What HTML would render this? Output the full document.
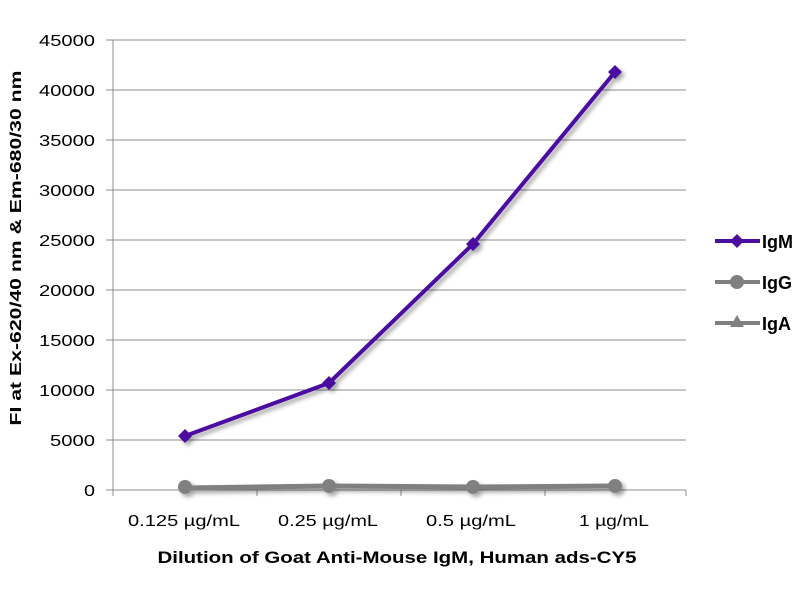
<!DOCTYPE html>
<html><head><meta charset="utf-8"><style>body{margin:0;background:#fff}svg{display:block}</style></head><body>
<svg width="800" height="600" xmlns="http://www.w3.org/2000/svg" font-family="Liberation Sans, sans-serif">
<defs><filter id="sh" x="-10%" y="-10%" width="130%" height="130%"><feDropShadow dx="3" dy="3" stdDeviation="2" flood-color="#000" flood-opacity="0.35"/></filter></defs>
<g stroke="#8c8c8c" stroke-width="1">
<line x1="113" y1="40" x2="686" y2="40"/><line x1="113" y1="90" x2="686" y2="90"/><line x1="113" y1="140" x2="686" y2="140"/><line x1="113" y1="190" x2="686" y2="190"/><line x1="113" y1="240" x2="686" y2="240"/><line x1="113" y1="290" x2="686" y2="290"/><line x1="113" y1="340" x2="686" y2="340"/><line x1="113" y1="390" x2="686" y2="390"/><line x1="113" y1="440" x2="686" y2="440"/><line x1="106" y1="490" x2="686" y2="490"/>
<line x1="113" y1="40" x2="113" y2="496"/>
<line x1="106" y1="40" x2="113" y2="40"/><line x1="106" y1="90" x2="113" y2="90"/><line x1="106" y1="140" x2="113" y2="140"/><line x1="106" y1="190" x2="113" y2="190"/><line x1="106" y1="240" x2="113" y2="240"/><line x1="106" y1="290" x2="113" y2="290"/><line x1="106" y1="340" x2="113" y2="340"/><line x1="106" y1="390" x2="113" y2="390"/><line x1="106" y1="440" x2="113" y2="440"/>
<line x1="257" y1="490" x2="257" y2="496"/><line x1="401" y1="490" x2="401" y2="496"/><line x1="545" y1="490" x2="545" y2="496"/><line x1="686" y1="490" x2="686" y2="496"/>
</g>
<g font-size="16" fill="#000" text-anchor="end" lengthAdjust="spacingAndGlyphs">
<text x="95" y="46" textLength="56" lengthAdjust="spacingAndGlyphs">45000</text><text x="95" y="96" textLength="56" lengthAdjust="spacingAndGlyphs">40000</text><text x="95" y="146" textLength="56" lengthAdjust="spacingAndGlyphs">35000</text><text x="95" y="196" textLength="56" lengthAdjust="spacingAndGlyphs">30000</text><text x="95" y="246" textLength="56" lengthAdjust="spacingAndGlyphs">25000</text><text x="95" y="296" textLength="56" lengthAdjust="spacingAndGlyphs">20000</text><text x="95" y="346" textLength="56" lengthAdjust="spacingAndGlyphs">15000</text><text x="95" y="396" textLength="56" lengthAdjust="spacingAndGlyphs">10000</text><text x="95" y="446" textLength="45" lengthAdjust="spacingAndGlyphs">5000</text><text x="95" y="496" textLength="11" lengthAdjust="spacingAndGlyphs">0</text>
</g>
<g font-size="16" text-anchor="middle">
<text x="184" y="526" textLength="112" lengthAdjust="spacingAndGlyphs">0.125 µg/mL</text><text x="328" y="526" textLength="100" lengthAdjust="spacingAndGlyphs">0.25 µg/mL</text><text x="471" y="526" textLength="90" lengthAdjust="spacingAndGlyphs">0.5 µg/mL</text><text x="614" y="526" textLength="70" lengthAdjust="spacingAndGlyphs">1 µg/mL</text>
</g>
<text x="397" y="563" font-size="17" font-weight="bold" text-anchor="middle" textLength="479" lengthAdjust="spacingAndGlyphs">Dilution of Goat Anti-Mouse IgM, Human ads-CY5</text>
<text transform="translate(21,248) rotate(-90)" font-size="16" font-weight="bold" text-anchor="middle" textLength="355" lengthAdjust="spacingAndGlyphs">FI at Ex-620/40 nm &amp; Em-680/30 nm</text>
<g filter="url(#sh)">
<polyline points="185,488 329,486 473,487 615,486" fill="none" stroke="#808080" stroke-width="5"/>
<circle cx="185" cy="487" r="7" fill="#808080"/><circle cx="329" cy="486" r="7" fill="#808080"/><circle cx="473" cy="487" r="7" fill="#808080"/><circle cx="615" cy="486" r="7" fill="#808080"/>
<polyline points="185,436 329,383 473,244 615,72" fill="none" stroke="#4b0fa0" stroke-width="4"/>
<g fill="#4b0fa0"><path d="M185 429l7 7-7 7-7-7z"/><path d="M329 376l7 7-7 7-7-7z"/><path d="M473 237l7 7-7 7-7-7z"/><path d="M615 65l7 7-7 7-7-7z"/></g>
</g>
<line x1="715" y1="241" x2="760" y2="241" stroke="#4b0fa0" stroke-width="4"/><path d="M737 234l7 7-7 7-7-7z" fill="#4b0fa0"/>
<line x1="715" y1="282" x2="760" y2="282" stroke="#808080" stroke-width="4"/><circle cx="737" cy="282" r="7" fill="#808080"/>
<line x1="715" y1="323" x2="760" y2="323" stroke="#808080" stroke-width="4"/><path d="M737 315l7 12h-14z" fill="#808080"/>
<g font-size="18" font-weight="bold"><text x="762" y="248">IgM</text><text x="762" y="289">IgG</text><text x="762" y="330">IgA</text></g>
</svg>
</body></html>
